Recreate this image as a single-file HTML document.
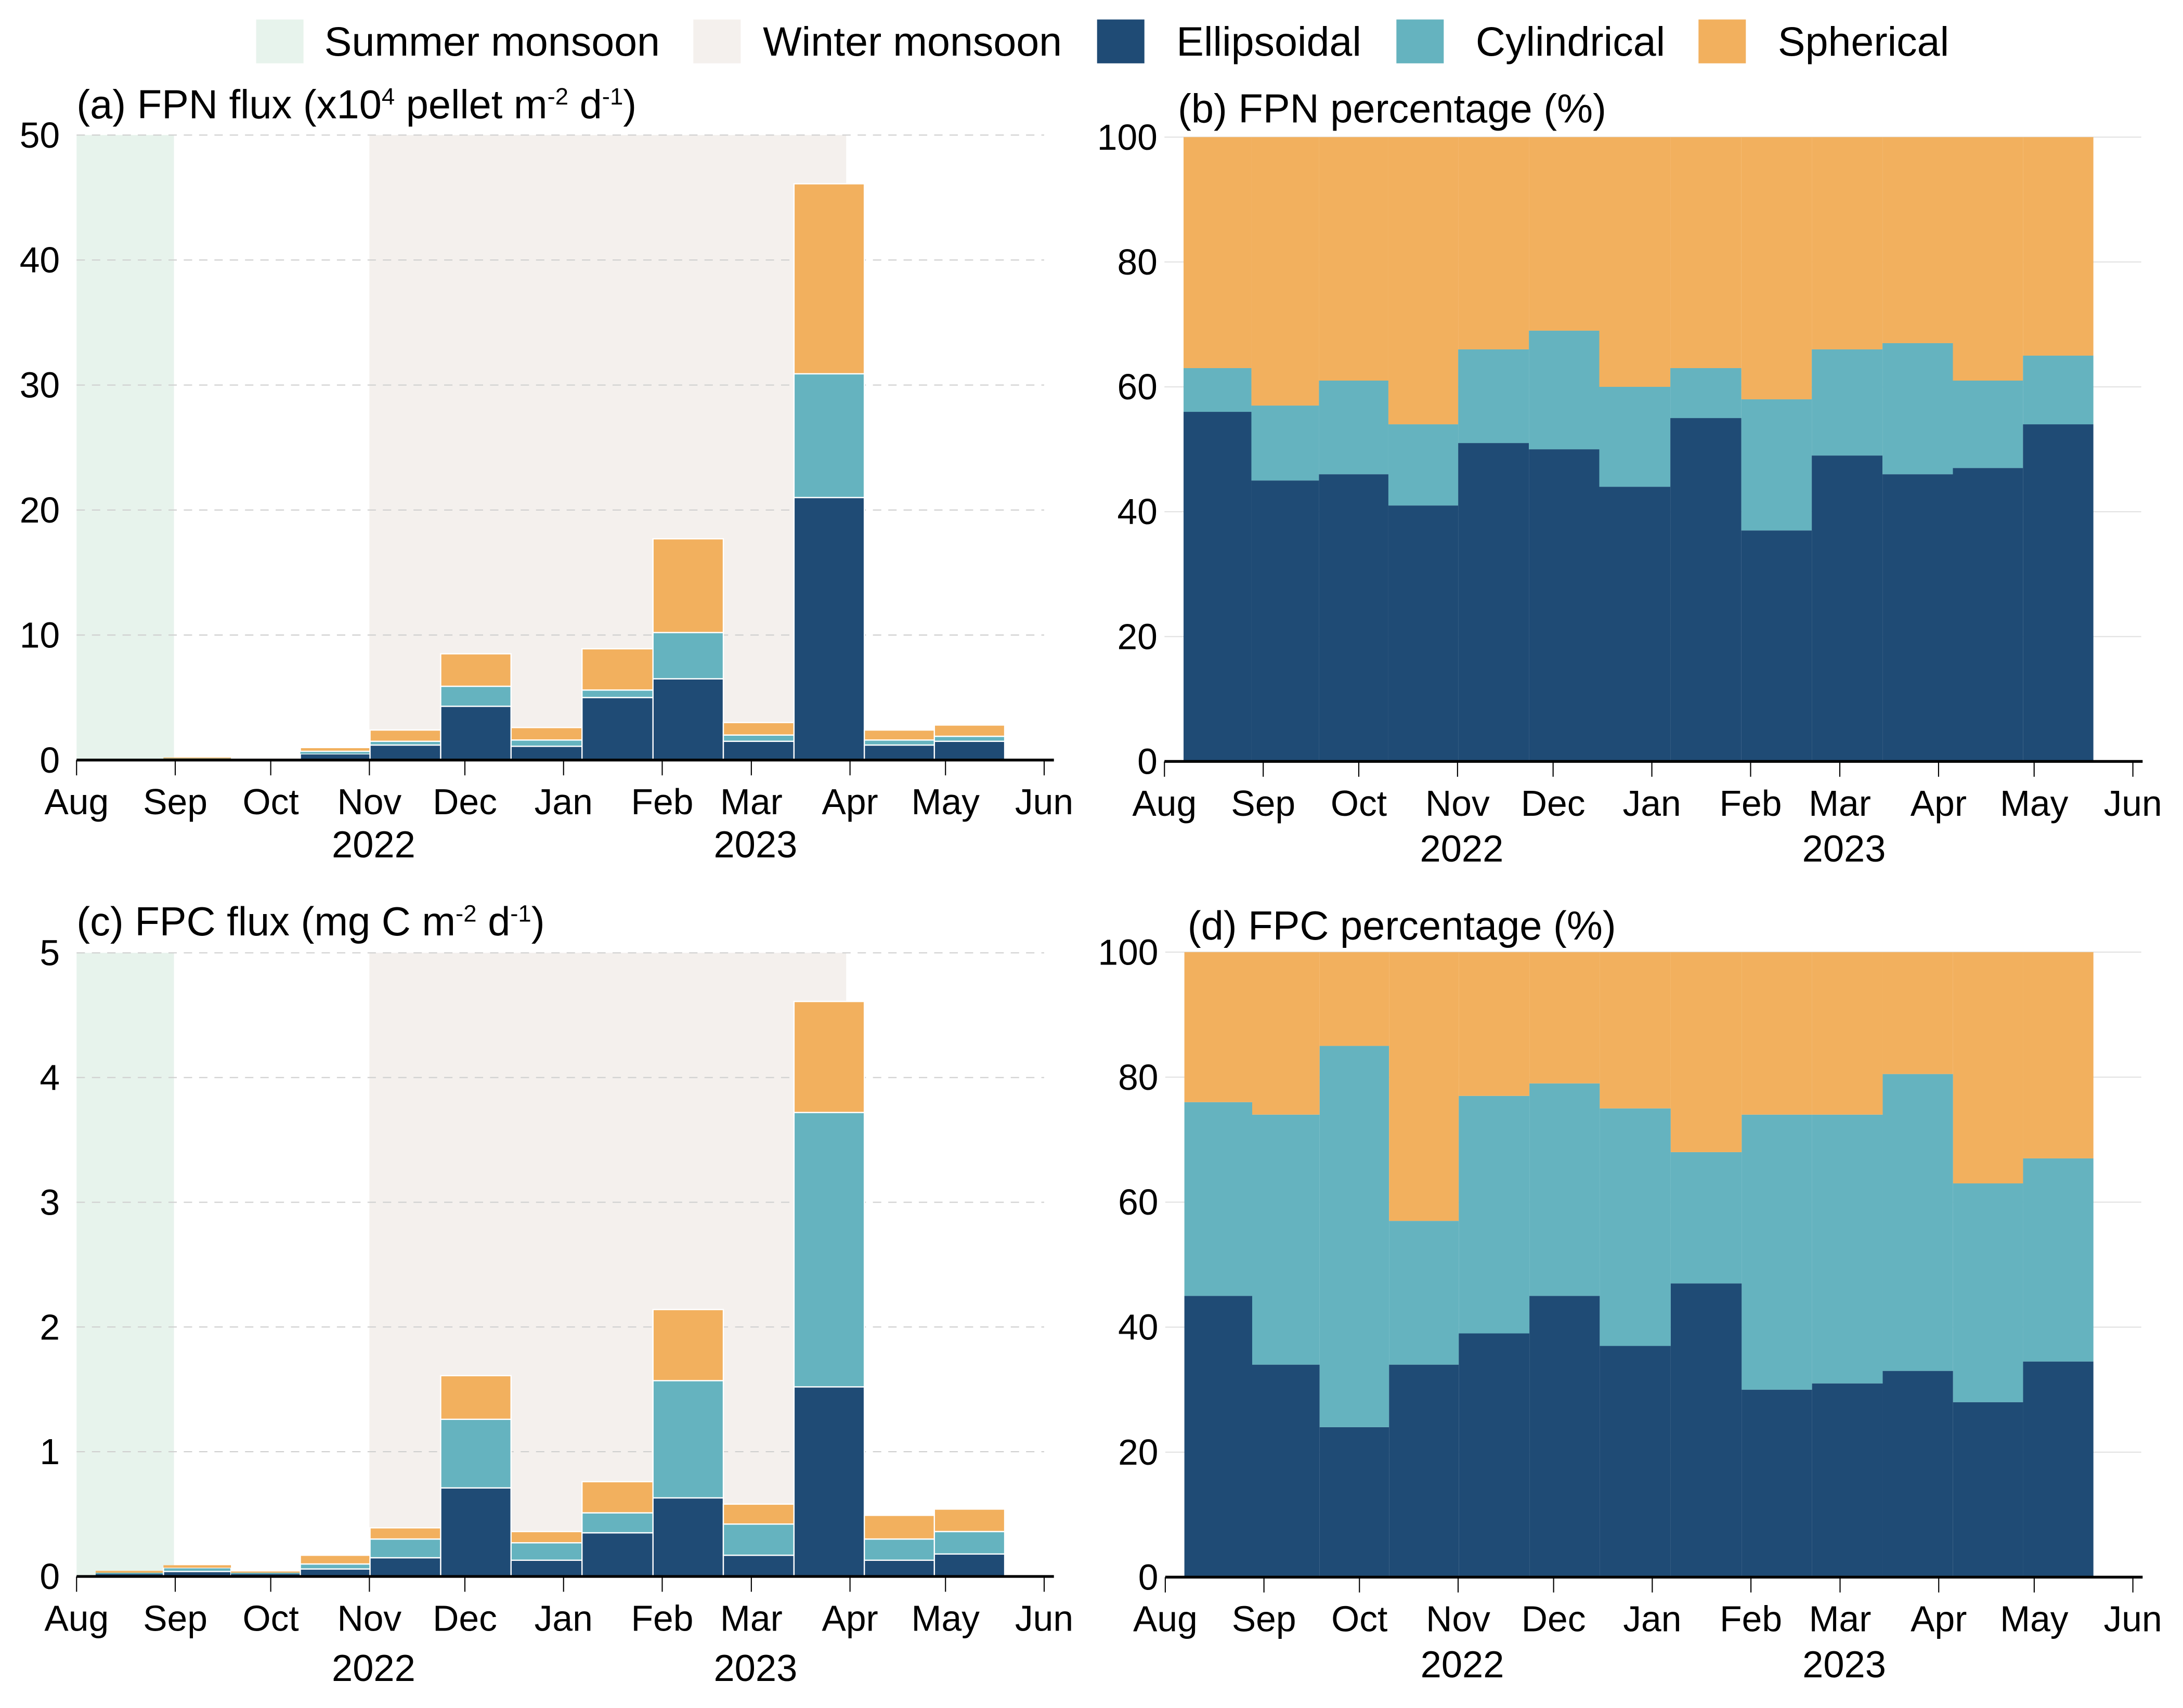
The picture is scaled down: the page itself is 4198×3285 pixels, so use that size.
<!DOCTYPE html>
<html><head><meta charset="utf-8">
<style>
html,body{margin:0;padding:0;background:#fff;}
svg{display:block;}
text{font-family:"Liberation Sans",Arial,sans-serif;fill:#000;}
</style></head>
<body>
<svg id="fig" width="4198" height="3285" viewBox="0 0 1568 1227" preserveAspectRatio="none" xmlns="http://www.w3.org/2000/svg">
<g font-size="29.5">
  <rect x="184" y="14" width="34" height="31.5" fill="#e7f3ec"/>
  <text x="233" y="40">Summer monsoon</text>
  <rect x="498" y="14" width="34" height="31.5" fill="#f4f0ed"/>
  <text x="548" y="40">Winter monsoon</text>
  <rect x="788" y="14" width="34" height="31.5" fill="#1f4b75"/>
  <text x="845" y="40">Ellipsoidal</text>
  <rect x="1003" y="14" width="34" height="31.5" fill="#65b3bf"/>
  <text x="1060" y="40">Cylindrical</text>
  <rect x="1220" y="14" width="34" height="31.5" fill="#f2b05e"/>
  <text x="1277" y="40">Spherical</text>
</g>
</svg>
<script>
// sample interval edges (days since 1 Aug 2022)
const binEdges = [6, 27.3, 48.5, 70.3, 92.2, 114.4, 136.5, 158.8, 181.1, 203.2, 225.4, 247.5, 269.5, 291.6];
const monthLabels = ["Aug","Sep","Oct","Nov","Dec","Jan","Feb","Mar","Apr","May","Jun"];
const monthDays = [0,31,61,92,122,153,184,212,243,273,304];
const summerMonsoon = [0, 30.6];
const winterMonsoon = [92, 241.8];
// (a) FPN flux
const fpnEll = [0.03,0.1,0.05,0.5,1.2,4.3,1.1,5.0,6.5,1.5,21.0,1.2,1.5];
const fpnCyl = [0.01,0.05,0.02,0.2,0.3,1.6,0.5,0.6,3.7,0.5,9.9,0.4,0.4];
const fpnSph = [0.01,0.05,0.03,0.3,0.9,2.6,1.0,3.3,7.5,1.0,15.2,0.8,0.9];
const fpnTicks = [0,10,20,30,40,50];
// (b) FPN percentage
const fpnPctEll = [56,45,46,41,51,50,44,55,37,49,46,47,54];
const fpnPctCyl = [7,12,15,13,15,19,16,8,21,17,21,14,11];
const fpnPctSph = [37,43,39,46,34,31,40,37,42,34,33,39,35];
const pctTicks = [0,20,40,60,80,100];
// (c) FPC flux
const fpcEll = [0.02,0.04,0.02,0.06,0.15,0.71,0.13,0.35,0.63,0.17,1.52,0.13,0.18];
const fpcCyl = [0.01,0.03,0.01,0.04,0.15,0.55,0.14,0.16,0.94,0.25,2.2,0.17,0.18];
const fpcSph = [0.015,0.02,0.01,0.07,0.09,0.35,0.09,0.25,0.57,0.16,0.89,0.19,0.18];
const fpcTicks = [0,1,2,3,4,5];
// (d) FPC percentage
const fpcPctEll = [45,34,24,34,39,45,37,47,30,31,33,28,34.5];
const fpcPctCyl = [31,40,61,23,38,34,38,21,44,43,47.5,35,32.5];
const fpcPctSph = [24,26,15,43,23,21,25,32,26,26,19.5,37,33];

const NS = "http://www.w3.org/2000/svg";
const svg = document.getElementById("fig");
const COLORS = ["#1f4b75","#65b3bf","#f2b05e"];
const SER = ["ellipsoidal","cylindrical","spherical"];

function mk(tag, attrs, parent){
  const e = document.createElementNS(NS, tag);
  for (const k in attrs) e.setAttribute(k, attrs[k]);
  (parent||svg).appendChild(e);
  return e;
}

function panel(cfg){
  const g = mk("g", {});
  
  
  const x = d => cfg.x0 + (d/304)*(cfg.x1-cfg.x0);
  const ymax = cfg.ticks[cfg.ticks.length-1];
  const y = v => cfg.y0 - (v/ymax)*(cfg.y0-cfg.yTop);
  if (cfg.shade){
    const s = mk("rect", {x:x(summerMonsoon[0]), y:cfg.yTop, width:x(summerMonsoon[1])-x(summerMonsoon[0]), height:cfg.y0-cfg.yTop, fill:"#e7f3ec"}, g);
    
    
    const w = mk("rect", {x:x(winterMonsoon[0]), y:cfg.yTop, width:x(winterMonsoon[1])-x(winterMonsoon[0]), height:cfg.y0-cfg.yTop, fill:"#f4f0ed"}, g);
    
    
  }
  cfg.ticks.forEach(t => {
    if (t === 0) return;
    const l = mk("line", {x1:cfg.x0, x2:cfg.gridEnd, y1:y(t), y2:y(t), stroke:cfg.shade?"#cfcfcf":"#e2e2e2", "stroke-width":0.8}, g);
    if (cfg.shade) l.setAttribute("stroke-dasharray","6,5");
    
    
  });
  for (let i=0;i<cfg.series[0].length;i++){
    let base = 0;
    for (let s=0;s<3;s++){
      const v = cfg.series[s][i];
      const h = y(base)-y(base+v);
      const r = mk("rect", {x:x(binEdges[i]), y:y(base+v), width:x(binEdges[i+1])-x(binEdges[i]), height:Math.max(h,0.6), fill:COLORS[s]}, g);
      if (cfg.shade && h > 2.5){ r.setAttribute("stroke","#fff"); r.setAttribute("stroke-width","0.9"); }
      
      
      base += v;
    }
  }
  const ax = mk("line", {x1:cfg.x0, x2:cfg.x1+7, y1:cfg.y0, y2:cfg.y0, stroke:"#000", "stroke-width":2}, g);
  
  
  monthDays.forEach((d,i) => {
    const t = mk("line", {x1:x(d), x2:x(d), y1:cfg.y0, y2:cfg.y0+11, stroke:"#000", "stroke-width":0.8}, g);
    
    
    const lb = mk("text", {x:x(d), y:cfg.y0+39, "font-size":26, "text-anchor":"middle"}, g);
    lb.textContent = monthLabels[i];
    
    
  });
  [["2022",92],["2023",212]].forEach(([yr,d]) => {
    const lb = mk("text", {x:x(d)+3, y:cfg.y0+cfg.yearDy, "font-size":27, "text-anchor":"middle"}, g);
    lb.textContent = yr;
    
    
  });
  cfg.ticks.forEach(t => {
    const lb = mk("text", {x:cfg.x0-cfg.labGap, y:y(t)+9, "font-size":26, "text-anchor":"end"}, g);
    lb.textContent = t;
    
    
  });
  const title = mk("text", {x:cfg.titleX, y:cfg.titleY, "font-size":29}, g);
  title.innerHTML = cfg.title;
  
  
}

panel({name:"panel-a-fpn-flux", x0:55, x1:750, y0:546, yTop:97, ticks:fpnTicks, shade:true, gridEnd:750,
  series:[fpnEll,fpnCyl,fpnSph], labGap:12, yearDy:70, titleX:55, titleY:85,
  title:'(a) FPN flux (x10<tspan font-size="17" dy="-10">4</tspan><tspan dy="10"> pellet m</tspan><tspan font-size="17" dy="-10">-2</tspan><tspan dy="10"> d</tspan><tspan font-size="17" dy="-10">-1</tspan><tspan dy="10">)</tspan>'});
panel({name:"panel-b-fpn-percentage", x0:836.4, x1:1532, y0:547, yTop:98.5, ticks:pctTicks, shade:false, gridEnd:1538,
  series:[fpnPctEll,fpnPctCyl,fpnPctSph], labGap:5, yearDy:72, titleX:846, titleY:88,
  title:'(b) FPN percentage (%)'});
panel({name:"panel-c-fpc-flux", x0:55, x1:750, y0:1132.5, yTop:684.5, ticks:fpcTicks, shade:true, gridEnd:750,
  series:[fpcEll,fpcCyl,fpcSph], labGap:12, yearDy:75, titleX:55, titleY:672,
  title:'(c) FPC flux (mg C m<tspan font-size="17" dy="-10">-2</tspan><tspan dy="10"> d</tspan><tspan font-size="17" dy="-10">-1</tspan><tspan dy="10">)</tspan>'});
panel({name:"panel-d-fpc-percentage", x0:837, x1:1532, y0:1133, yTop:684, ticks:pctTicks, shade:false, gridEnd:1538,
  series:[fpcPctEll,fpcPctCyl,fpcPctSph], labGap:5, yearDy:72, titleX:853, titleY:675,
  title:'(d) FPC percentage (%)'});
</script>
</body></html>
